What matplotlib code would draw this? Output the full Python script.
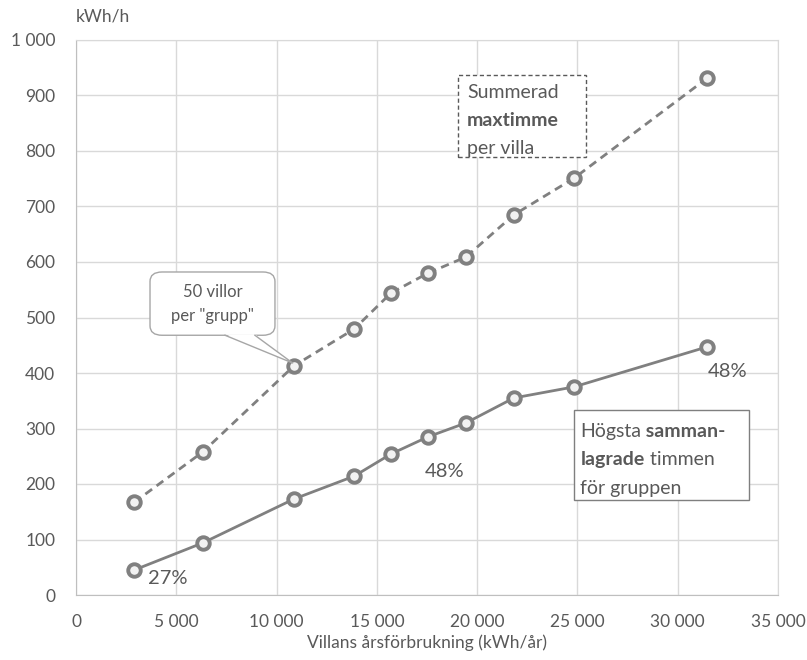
import numpy as np
import matplotlib
matplotlib.use("Agg")
import matplotlib.pyplot as plt
import matplotlib.patches as patches
from matplotlib.ticker import FuncFormatter

plt.rcParams['font.family'] = ['Lato', 'DejaVu Sans']

# annual consumption per villa (kWh/year)
consumption = [2900, 6330, 10870, 13860, 15700, 17550, 19440, 21830, 24830, 31460]
# summed max hour per villa, 50 villas per group (kWh/h)
summed_max = [167, 258, 413, 479, 544, 580, 609, 685, 751, 931]
# highest coincident hour for the group (kWh/h)
group_max = [45, 94, 173, 214, 254, 285, 310, 355, 375, 447]

GRAY = '#808080'
TXT = '#595959'
GRID = '#d9d9d9'

fig = plt.figure(figsize=(8.07, 6.6), dpi=100)
ax = fig.add_axes([76 / 807, 65 / 660, 702 / 807, 555 / 660])

ax.plot(consumption, summed_max, color=GRAY, lw=2, ls=(0, (3, 2)),
        marker='o', ms=9, mew=2.8, mfc='#f2f2f2', mec=GRAY, zorder=4)
ax.plot(consumption, group_max, color=GRAY, lw=2,
        marker='o', ms=9, mew=2.8, mfc='#f2f2f2', mec=GRAY, zorder=4)

ax.set_xlim(0, 35000)
ax.set_ylim(0, 1000)
ax.set_xticks(np.arange(0, 35001, 5000))
ax.set_yticks(np.arange(0, 1001, 100))
fmt = FuncFormatter(lambda v, p: f"{int(v):,}".replace(',', ' '))
ax.xaxis.set_major_formatter(fmt)
ax.yaxis.set_major_formatter(fmt)
ax.tick_params(length=0, labelsize=12.5, colors=TXT)
ax.tick_params(axis='x', pad=14)
ax.tick_params(axis='y', pad=15)
ax.grid(True, color=GRID, lw=1)
ax.set_axisbelow(True)
for s in ['top', 'right']:
    ax.spines[s].set_color(GRID)
for s in ['left', 'bottom']:
    ax.spines[s].set_color('#bfbfbf')

ax.set_xlabel('Villans årsförbrukning (kWh/år)', fontsize=12.5, color=TXT, labelpad=3)
fig.text(76 / 807, 1 - 17 / 660, 'kWh/h', fontsize=12.5, color=TXT, va='center')


def rich_line(x, y, parts, size=14):
    t = ax.text(x, y, parts[0][0], fontweight=parts[0][1], fontsize=size,
                color=TXT, va='bottom', zorder=6)
    for s, w in parts[1:]:
        t = ax.annotate(s, xy=(1, 0), xycoords=t, va='bottom', ha='left',
                        fontweight=w, fontsize=size, color=TXT, zorder=6)


# dashed label box for the upper series
ax.add_patch(patches.Rectangle((19040, 789), 6380, 148, fill=True, fc='white',
                               ec='#595959', ls=(0, (3, 2)), lw=1, zorder=5))
rich_line(19500, 890, [('Summerad', 'normal')])
rich_line(19500, 840, [('maxtimme', 'bold')])
rich_line(19500, 790, [('per villa', 'normal')])

# solid label box for the lower series
ax.add_patch(patches.Rectangle((24830, 171), 8720, 162, fill=True, fc='white',
                               ec='#7f7f7f', lw=1, zorder=5))
rich_line(25150, 280, [('Högsta', 'normal'), (' samman-', 'bold')])
rich_line(25150, 228, [('lagrade', 'bold'), (' timmen', 'normal')])
rich_line(25150, 176, [('för gruppen', 'normal')])

# callout pointing at the third group
ax.add_patch(patches.FancyBboxPatch((3690, 468), 6230, 114,
                                    boxstyle='round,pad=0,rounding_size=600',
                                    mutation_aspect=0.0285,
                                    fc='white', ec='#a6a6a6', lw=1, zorder=5))
tip = (10800, 418)
ax.add_patch(patches.Polygon([(7430, 470), (8920, 470), tip], closed=True,
                             fc='white', ec='none', zorder=5))
ax.plot([7430, tip[0], 8920], [468, tip[1], 468], color='#a6a6a6', lw=1, zorder=5)
ax.text(6800, 546, '50 villor', fontsize=12, color=TXT, ha='center', va='center', zorder=6)
ax.text(6800, 503, 'per "grupp"', fontsize=12, color=TXT, ha='center', va='center', zorder=6)

# percentage labels
ax.text(4550, 29, '27%', fontsize=14.5, color=TXT, ha='center', va='center', zorder=6)
ax.text(32500, 402, '48%', fontsize=14.5, color=TXT, ha='center', va='center', zorder=6)
ax.text(18400, 222, '48%', fontsize=14.5, color=TXT, ha='center', va='center', zorder=6,
        bbox=dict(fc='white', ec='none', pad=1.5))

fig.savefig('out.png', dpi=100)
